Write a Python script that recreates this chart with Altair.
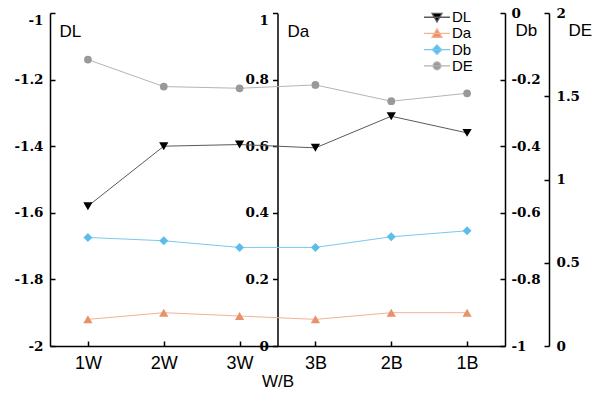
import altair as alt
import pandas as pd

groups = ["1W", "2W", "3W", "3B", "2B", "1B"]
series = ["DL", "Da", "Db", "DE"]
dl = [-1.58, -1.40, -1.395, -1.405, -1.31, -1.36]
da = [0.08, 0.10, 0.09, 0.08, 0.10, 0.10]
db = [-0.674, -0.684, -0.704, -0.704, -0.672, -0.654]
de = [1.72, 1.558, 1.548, 1.568, 1.47, 1.518]

dl_ticks = [-2, -1.8, -1.6, -1.4, -1.2, -1]
da_ticks = [0, 0.2, 0.4, 0.6, 0.8, 1]
db_ticks = [-1, -0.8, -0.6, -0.4, -0.2, 0]
de_ticks = [0, 0.5, 1, 1.5, 2]

rows = []
for name, vals in zip(series, [dl, da, db, de]):
    for g, v in zip(groups, vals):
        rows.append({"group": g, "series": name, "value": v})
df = pd.DataFrame(rows)

W, H = 455, 333
SERIF = "DejaVu Serif"
SANS = "Liberation Sans"
LBL = "'' + datum.value"

line_colors = ["#5a5a5a", "#f2b393", "#79c8ee", "#b4b4b4"]
pt_colors = ["#000000", "#e8916a", "#5dbde9", "#999999"]
shapes = ["triangle-down", "triangle-up", "diamond", "circle"]
sizes = [85, 85, 80, 60]
legend_paths = [
    "M-1,0H1M-0.38,-0.3H0.38L0,0.36Z",
    "M-1,0H1M-0.38,0.3H0.38L0,-0.36Z",
    "M-1,0H1M0,-0.36L0.36,0L0,0.36L-0.36,0Z",
    "M-1,0H1M0.3,0A0.3,0.3 0 1,1 -0.3,0A0.3,0.3 0 1,1 0.3,0Z",
]

base = alt.Chart(df)


def xenc(axis):
    return alt.X("group:N", sort=groups,
                 scale=alt.Scale(type="point", domain=groups, padding=0.5),
                 axis=axis)


def yenc(domain, axis):
    return alt.Y("value:Q", scale=alt.Scale(domain=domain, nice=False, zero=False),
                 axis=axis)


def main_axis(orient, offset, values, title, tx, ty, ticks, pad, top_flush):
    extra = {}
    if top_flush:
        extra["labelBaseline"] = {"condition": {"test": f"datum.value == {values[-1]}", "value": "top"},
                                  "value": "middle"}
    return alt.Axis(orient=orient, offset=offset, values=values, labelExpr=LBL,
                    ticks=ticks, tickSize=5 if ticks else 0, labelPadding=pad,
                    grid=False, title=title, titleAngle=0, titleX=tx, titleY=ty,
                    titleAlign="left", titleBaseline="alphabetic",
                    titleFont=SANS, titleFontSize=17, titleFontWeight="normal",
                    labelFont=SERIF, labelFontSize=13.5, labelFontWeight="bold",
                    labelColor="black", titleColor="black", **extra)


def tick_axis(orient, offset, values):
    return alt.Axis(orient=orient, offset=offset, values=values, ticks=True, tickSize=5,
                    labels=False, domain=False, grid=False, title=None)


def series_layer(i, domain, axis, xaxis=None):
    name = series[i]
    return base.transform_filter(alt.datum.series == name).mark_line(
        color=line_colors[i], strokeWidth=1,
        point=alt.OverlayMarkDef(filled=True, color=pt_colors[i], shape=shapes[i],
                                 size=sizes[i], opacity=1)
    ).encode(x=xenc(xaxis), y=yenc(domain, axis))


x_main = alt.Axis(orient="bottom", ticks=False, tickSize=0, labelPadding=8, grid=False,
                  labelAngle=0, labelFont=SANS, labelFontSize=18, labelFontWeight="normal",
                  labelColor="black",
                  title="W/B", titleFont=SANS, titleFontSize=17, titleFontWeight="normal",
                  titleY=40, titleBaseline="alphabetic", titleColor="black")
x_ticks = alt.Axis(orient="top", offset=-H, ticks=True, tickSize=5, labels=False,
                   domain=False, grid=False, title=None)

l_dl = series_layer(0, [-2, -1], main_axis("left", 0, dl_ticks, "DL", 9, 23, False, 7, True), x_main)
l_da = series_layer(1, [0, 1], main_axis("left", -W / 2, da_ticks, "Da", 9.5, 23, True, 4, True))
l_db = series_layer(2, [-1, 0], main_axis("right", 0, db_ticks, "Db", 10, 22, False, 6, False))
l_de = series_layer(3, [0, 2], main_axis("right", 44, de_ticks, "DE", 19, 22, False, 7, False))

empty = base.transform_filter("false").mark_point(opacity=0)
t_dl = empty.encode(x=xenc(x_ticks), y=yenc([-2, -1], tick_axis("right", -W, dl_ticks)))
t_db = empty.encode(x=xenc(None), y=yenc([-1, 0], tick_axis("left", -W, db_ticks)))
t_de = empty.encode(x=xenc(None), y=yenc([0, 2], tick_axis("left", -(W + 44), de_ticks)))

leg = alt.Legend(title=None, orient="none", legendX=373, legendY=-3.5, padding=0,
                 symbolSize=676, symbolStrokeWidth=1.3, clipHeight=15.5, rowPadding=0.2,
                 labelFont=SANS, labelFontSize=15, labelColor="black", labelOffset=1)
legend_layer = base.transform_filter("false").mark_point(filled=True, opacity=1, strokeWidth=1.3).encode(
    shape=alt.Shape("series:N", scale=alt.Scale(domain=series, range=legend_paths), legend=leg),
    fill=alt.Fill("series:N", scale=alt.Scale(domain=series, range=pt_colors), legend=leg),
    stroke=alt.Stroke("series:N", scale=alt.Scale(domain=series, range=line_colors), legend=leg),
)

chart = alt.layer(l_dl, l_da, l_db, l_de, t_dl, t_db, t_de, legend_layer).resolve_scale(
    x="independent", y="independent"
).properties(
    width=W, height=H,
    autosize=alt.AutoSizeParams(type="none"),
    padding={"left": 42, "top": 5, "right": 93, "bottom": 43},
).configure_view(stroke=None).configure_axis(
    domainColor="black", domainWidth=1.5, tickColor="black", tickWidth=1.5,
)

chart.save("out.html", embed_options={"renderer": "svg", "actions": False})
